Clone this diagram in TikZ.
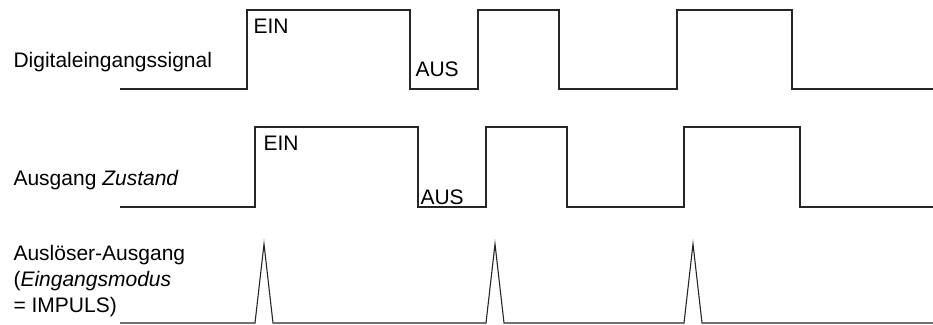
\documentclass[tikz,border=0pt]{standalone}
\usepackage{fontspec}
\setmainfont{Liberation Sans}
\usetikzlibrary{positioning}

\begin{document}
\begin{tikzpicture}[x=1pt,y=-1pt,line width=1.1pt,
  lbl/.style={anchor=base west,inner sep=0pt,font=\fontsize{21}{26}\selectfont},
  wave/.style={draw=black!85,line join=miter}]
\useasboundingbox (0,0) rectangle (933,324);
% Digitaleingang
\coordinate (a0) at (120,89);
\coordinate (a1) at (247,89);
\coordinate (a2) at (410,89);
\draw[wave] (a0)--(a1)--(247,10)--(410,10)--(a2)--(478,89)--(478,10)--(559,10)--(559,89)
  --(677,89)--(677,10)--(792,10)--(792,89)--(933,89);
\node[lbl] (din) at (13,67) {Digitaleingangssignal};
\node[lbl] (ein1) at (253,33) {EIN};
\node[lbl] (aus1) at (415,76) {AUS};
% Ausgang Zustand
\coordinate (b0) at (120,207);
\coordinate (b1) at (255,207);
\coordinate (b2) at (418,207);
\draw[wave] (b0)--(b1)--(255,127)--(418,127)--(b2)--(486,207)--(486,127)--(567,127)--(567,207)
  --(684,207)--(684,127)--(800,127)--(800,207)--(933,207);
\node[lbl] (zus) at (13,185) {Ausgang \textit{Zustand}};
\node[lbl] (ein2) at (263,150) {EIN};
\node[lbl] (aus2) at (420,204) {AUS};
% Ausloeser-Ausgang
\coordinate (c0) at (120,323);
\draw[wave] (c0)--(255,323)--(264,244)--(273,323)--(486,323)--(495,244)--(504,323)
  --(684,323)--(693,244)--(702,323)--(933,323);
\node[lbl,align=left] (trig) at (13,312) {Auslöser-Ausgang\\(\textit{Eingangsmodus}\\= IMPULS)};
\end{tikzpicture}
\end{document}
